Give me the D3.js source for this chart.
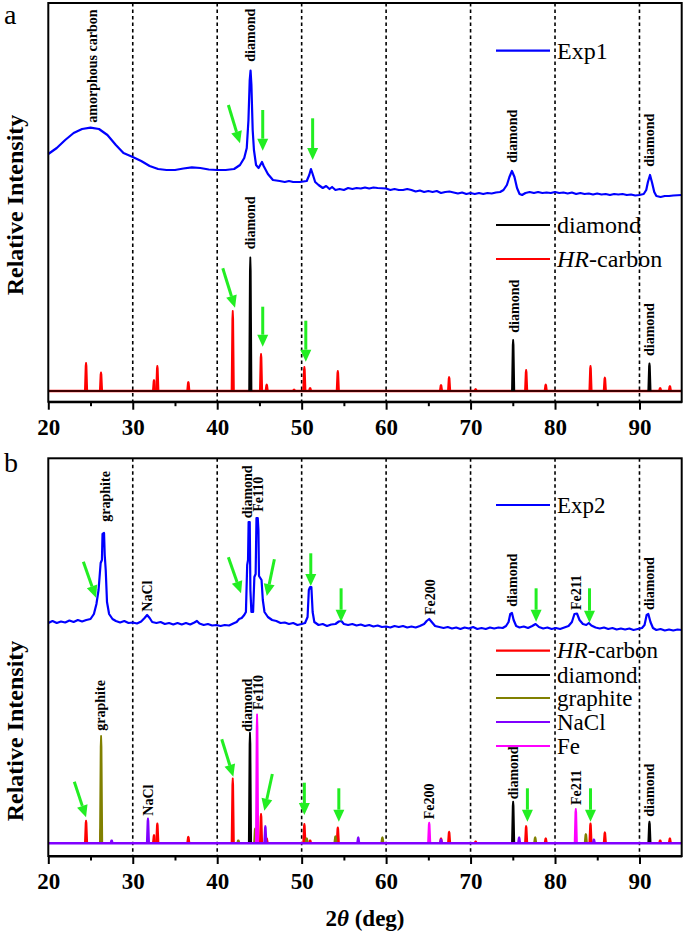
<!DOCTYPE html>
<html><head><meta charset="utf-8">
<script src="https://cdn.jsdelivr.net/npm/d3@7"></script>
<style>body{margin:0;background:#fff}svg{display:block}
svg text{font-family:"Liberation Serif","Times New Roman",Times,"DejaVu Serif",serif;}</style>
</head><body>
<svg id="c" width="685" height="941"></svg>
<script>
// ---------- DATA (2θ in degrees, intensity in arbitrary units) ----------
const xTickValues = [20, 30, 40, 50, 60, 70, 80, 90];
const xMinorTicks = [25, 35, 45, 55, 65, 75, 85];
const gridValues = [30, 40, 50, 60, 70, 80, 90];

const exp1 = [[20,237],[21,243],[22,251],[23,258],[24,262],[25,263.3],[26,262],[27,256],[28,246],[28.9,238],[30,234],[31,230],[32,225],[33,222],[34,221],[35,221],[36,222.5],[37,223.7],[38,223],[39,221.5],[40,221],[41,221],[42,222],[42.7,226],[43.2,233],[43.5,243],[43.7,271],[43.85,311],[43.95,320.3],[44.05,306],[44.2,261],[44.35,241],[44.6,226],[44.9,223],[45.1,226],[45.3,229],[45.5,225],[46,217],[46.6,211],[47.4,210],[48,209],[48.5,210],[49,209],[49.8,209],[50.6,210],[50.9,216],[51.1,222],[51.3,217],[51.6,209],[52,206],[52.5,203],[52.9,205],[53.3,202],[53.6,204],[54,201],[54.5,202],[55,201],[55.5,203],[56,202],[56.5,203],[57,202.5],[57.5,203.5],[58,202.5],[58.5,203.5],[59,203],[60,202.5],[60.5,201],[61,202],[61.5,201],[62,201],[62.5,202],[63,201],[63.5,199.5],[64,200.5],[64.5,199],[65,200],[65.5,199],[66,200],[66.5,198],[67,199],[67.5,199.5],[68,198.5],[68.5,197.5],[69,198.5],[69.5,197],[70,198],[70.5,197],[71,198],[71.5,197],[72,198],[72.5,197.5],[73,198.5],[73.5,199],[73.9,201],[74.3,206],[74.6,214],[74.9,220],[75.2,214],[75.5,203],[75.8,197],[76.1,196],[76.5,198],[77,199],[77.5,198],[78,199],[78.5,198],[79,198.5],[79.5,198],[80,199],[80.5,198],[81,198.5],[81.5,197.5],[82,198.5],[82.5,197],[83,198],[83.5,197],[84,197.5],[84.5,196.5],[85,197.5],[85.5,196.5],[86,197],[86.5,196],[87,197],[87.5,196.5],[88,197],[88.5,196],[89,196.5],[89.5,195.5],[90,196],[90.5,197],[90.8,201],[91,209],[91.25,216],[91.5,208],[91.75,199],[92,195],[92.5,194],[93,195],[93.5,195],[94,195.5],[95,196]];

const exp2 = [[20,220.3],[20.5,222.3],[21,220.3],[21.5,221.8],[22,220.8],[22.5,222.8],[23,221.3],[23.5,223.3],[24,221.8],[24.5,223.3],[25,224.3],[25.4,229.3],[25.7,239.3],[25.95,253.3],[26.2,280.3],[26.35,283.3],[26.42,309.3],[26.6,310.3],[26.68,288.3],[26.8,273.3],[26.95,241.3],[27.2,229.3],[27.6,224.3],[28,222.3],[28.5,220.8],[29,222.3],[29.5,220.3],[30,220.8],[30.5,219.8],[31,221.8],[31.4,225.3],[31.7,228.3],[32,225.3],[32.3,221.3],[32.8,220.3],[33.3,221.3],[33.8,219.3],[34.3,220.3],[34.8,218.8],[35.3,220.3],[35.8,218.8],[36.3,220.3],[36.8,218.8],[37.3,220.8],[37.6,222.3],[37.9,219.8],[38.4,218.3],[38.9,219.3],[39.4,217.8],[39.9,218.3],[40.4,217.3],[40.9,218.3],[41.4,217.8],[41.9,219.8],[42.3,221.3],[42.6,224.3],[42.9,225.3],[43.2,228.3],[43.4,231.3],[43.55,278.3],[43.65,283.3],[43.72,321.3],[43.85,321.3],[43.93,253.3],[44.05,231.3],[44.25,231.3],[44.4,266.3],[44.55,269.3],[44.65,325.3],[44.8,325.3],[44.88,313.3],[44.95,267.3],[45.25,263.3],[45.4,243.3],[45.6,231.3],[46,226.3],[46.5,223.3],[47,222.3],[47.5,220.3],[48,220.8],[48.5,219.3],[49,220.3],[49.5,218.3],[50,219.3],[50.4,220.3],[50.7,226.3],[50.85,253.3],[51,256.3],[51.15,256.3],[51.3,231.3],[51.5,221.3],[52,218.3],[52.5,219.3],[53,217.3],[53.5,218.8],[54,219.3],[54.4,221.8],[54.7,222.3],[55,219.3],[55.5,218.3],[56,219.3],[56.5,217.8],[57,218.8],[57.5,217.3],[58,218.3],[58.5,216.8],[59,217.8],[59.5,216.3],[60,216.8],[60.5,215.8],[61,217.3],[61.5,216.3],[62,217.3],[62.5,215.8],[63,216.8],[63.5,215.8],[64,217.3],[64.5,219.3],[64.8,222.3],[65.1,224.3],[65.4,221.3],[65.8,217.3],[66.3,216.3],[66.8,215.3],[67.3,216.3],[67.8,214.8],[68.3,215.8],[68.8,214.3],[69.3,215.8],[69.8,214.8],[70.3,216.3],[70.8,214.3],[71.3,215.3],[71.8,214.3],[72.3,215.8],[72.8,214.8],[73.3,215.8],[73.8,215.3],[74.2,217.3],[74.5,221.3],[74.7,229.3],[74.9,230.3],[75.1,223.3],[75.4,217.3],[75.8,215.8],[76.3,216.8],[76.8,215.3],[77.3,217.3],[77.7,219.3],[78.1,216.3],[78.6,214.8],[79.1,215.8],[79.6,214.3],[80.1,215.3],[80.6,214.3],[81.1,215.8],[81.6,217.3],[82,221.3],[82.3,229.3],[82.6,229.8],[82.9,223.3],[83.3,219.3],[83.7,218.3],[84,220.3],[84.3,217.8],[84.8,215.8],[85.3,214.8],[85.8,215.8],[86.3,214.3],[86.8,215.3],[87.3,213.8],[87.8,214.8],[88.3,213.8],[88.8,214.8],[89.3,213.3],[89.8,214.3],[90.3,215.3],[90.6,218.3],[90.85,228.3],[91.05,229.3],[91.3,221.3],[91.6,215.3],[92,213.3],[92.5,214.3],[93,212.8],[93.5,213.8],[94,212.8],[94.5,213.8],[95,213.3]];

// reference patterns: [2θ, peak height]
const hrCarbonA = [[24.47,28],[26.24,18.5],[32.52,11],[32.91,25],[36.58,9],[41.84,80],[45.19,37],[45.86,6.5],[49.1,1.5],[50.32,24],[51.0,3],[54.28,20],[66.5,6],[67.46,14],[70.6,2],[76.58,21],[78.9,6.5],[84.2,25],[85.9,13.5],[92.45,3],[93.6,5]];
const diamondA = [[43.92,133.5],[75.04,51],[91.18,27.5]];

const hrCarbonB = [[24.47,22.6],[26.24,15],[32.52,8.3],[32.91,20],[36.58,6.6],[41.84,65],[45.19,29.3],[45.86,5],[50.32,19.3],[51.0,3],[54.28,16],[66.5,5],[67.46,11.6],[70.6,2],[76.58,17.3],[78.9,5],[84.2,20],[85.9,11],[92.45,3],[93.6,5]];
const diamondB = [[43.88,110.6],[75.04,41.6],[91.18,21.6]];
const graphiteB = [[26.25,107.3],[42.5,3],[44.5,15],[50.6,5],[54.0,7],[59.56,6],[77.65,6],[83.65,9.3]];
const naclB = [[27.5,3],[31.8,25],[45.7,17.3],[56.7,6],[66.5,4],[75.75,6],[84.6,4]];
const feB = [[44.72,129],[65.1,20.6],[82.46,34.3]];

// peak annotations: [text, 2θ, intensity at text start]
const labelsA = [["amorphous carbon",25.14,268.3],["diamond",43.89,329.3],["diamond",74.89,228.3],["diamond",91.11,224.3],["diamond",43.89,141.7],["diamond",75.08,58.3],["diamond",91.11,35]];
const labelsB = [["graphite",26.72,321.6],["NaCl",31.73,231.6],["diamond",43.5,325],["Fe110",44.87,331.6],["Fe200",65.21,228.3],["diamond",74.89,236.6],["Fe211",82.5,233.3],["diamond",91.07,233.3],["graphite",26.12,112.6],["NaCl",31.84,27.6],["diamond",43.5,111.6],["Fe110",44.87,133.3],["Fe200",65.09,24],["diamond",75.0,44],["Fe211",82.5,38.3],["diamond",91.18,26.6]];

// green arrows: [tail 2θ, tail I, tip 2θ, tip I]
const arrowsA = [[41.32,286,42.7,247.7],[45.39,281,45.39,240.3],[51.3,272.7,51.3,231],[40.66,122.7,42.11,83.3],[45.39,84.3,45.39,44.3],[50.49,70.3,50.49,29.3]];
const arrowsB = [[24.15,281.6,25.65,245.6],[41.32,286,42.82,250],[46.77,284,45.87,247.3],[51.08,290,51.08,257.3],[54.67,255,54.67,221.6],[77.76,255,77.76,221.6],[84.08,255,84.08,220.6],[23.08,61.6,24.47,26],[40.54,104,41.91,66.6],[46.53,69.3,45.58,32.6],[50.32,60.6,50.32,28.3],[54.4,55,54.4,21.6],[76.73,55,76.73,21.6],[84.2,55,84.2,21.6]];

const legendNamesA = ["Exp1", "diamond", "HR-carbon"];
const legendNamesB = ["Exp2", "HR-carbon", "diamond", "graphite", "NaCl", "Fe"];

// ---------- DRAWING ----------
const COL = {exp:"#0000ff", hr:"#ff0000", diamond:"#000000", graphite:"#808000", nacl:"#8000ff", fe:"#ff00ff", arrow:"#22ee22"};
const svg = d3.select("#c");
const x = d3.scaleLinear([20, 95], [48.3, 681.7]);

function peakPts(p, h){ return [[p-0.14,0],[p-0.05,0.9*h],[p,h],[p+0.05,0.9*h],[p+0.14,0]]; }

function panel(opts){
  const y = d3.scaleLinear(opts.yDomain, opts.yRange);
  const g = svg.append("g");
  const top = opts.yRange[1], bot = opts.yRange[0];
  g.selectAll(".grid").data(gridValues).join("line")
    .attr("x1", d=>x(d)).attr("x2", d=>x(d)).attr("y1", top).attr("y2", bot)
    .attr("stroke","#000").attr("stroke-width",1.6).attr("stroke-dasharray","3.5,3");
  const line = d3.line().x(d=>x(d[0])).y(d=>y(d[1]));
  opts.refs.forEach(r=>{
    const rg = g.append("g");
    rg.append("path").attr("d", line([[20,0],[95,0]])).attr("fill","none")
      .attr("stroke", r.color).attr("stroke-width", r.base);
    rg.selectAll("path.pk").data(r.data).join("path").attr("class","pk")
      .attr("d", d=>line(peakPts(d[0], d[1]))).attr("fill", r.color)
      .attr("stroke", r.color).attr("stroke-width", 1.8).attr("stroke-linejoin","round");
  });
  g.append("path").attr("d", line(opts.exp)).attr("fill","none")
    .attr("stroke", COL.exp).attr("stroke-width", 2.2).attr("stroke-linejoin","round");
  g.selectAll("text.lab").data(opts.labels).join("text").attr("class","lab")
    .attr("transform", d=>`translate(${x(d[1])},${y(d[2])}) rotate(-90)`)
    .attr("dy","0.36em").attr("font-weight","bold")
    .attr("font-size", 14).text(d=>d[0]);
  opts.arrows.forEach(a=>{
    const x1=x(a[0]), y1=y(a[1]), x2=x(a[2]), y2=y(a[3]);
    const ang = Math.atan2(y2-y1, x2-x1), L=12, W=5.5;
    const bx = x2 - L*Math.cos(ang), by = y2 - L*Math.sin(ang);
    g.append("line").attr("x1",x1).attr("y1",y1).attr("x2",bx).attr("y2",by)
      .attr("stroke",COL.arrow).attr("stroke-width",3);
    const px = -Math.sin(ang)*W, py = Math.cos(ang)*W;
    g.append("path").attr("d",`M${x2},${y2}L${bx+px},${by+py}L${bx-px},${by-py}Z`).attr("fill",COL.arrow);
  });
  g.append("rect").attr("x", 48.3).attr("y", top).attr("width", 681.7-48.3).attr("height", bot-top)
    .attr("fill","none").attr("stroke","#000").attr("stroke-width",2);
  const ax = g.append("g").attr("transform",`translate(0,${bot})`)
    .call(d3.axisBottom(x).tickValues(xTickValues).tickSize(8).tickSizeOuter(0).tickPadding(9).tickFormat(d3.format("d")));
  ax.attr("font-family", null);
  ax.select(".domain").attr("stroke-width",2);
  ax.selectAll(".tick line").attr("stroke-width",2);
  ax.selectAll("text").attr("font-weight","bold").attr("font-size",23).attr("fill","#000");
  const mi = g.append("g").attr("transform",`translate(0,${bot})`)
    .call(d3.axisBottom(x).tickValues(xMinorTicks).tickSize(4.5).tickSizeOuter(0).tickFormat(""));
  mi.select(".domain").remove();
  mi.selectAll(".tick line").attr("stroke-width",2);
  svg.append("text").attr("transform",`translate(23,${opts.ylabelY}) rotate(-90)`)
    .attr("text-anchor","middle").attr("font-weight","bold")
    .attr("font-size",24).text("Relative Intensity");
  svg.append("text").attr("x",4).attr("y",opts.letterY)
    .attr("font-size",28).text(opts.letter);
  const lg = g.append("g");
  opts.legend.forEach((it,i)=>{
    const ly = top + it.dy;
    lg.append("line").attr("x1",496).attr("x2",550).attr("y1",ly).attr("y2",ly)
      .attr("stroke",it.color).attr("stroke-width",2.2);
    const t = lg.append("text").attr("x",557).attr("y",ly).attr("dy","0.33em")
      .attr("font-size",opts.legendSize);
    if (it.name.startsWith("HR")) {
      t.append("tspan").attr("font-style","italic").text("HR");
      t.append("tspan").text(it.name.slice(2));
    } else t.text(it.name);
  });
}

panel({yDomain:[-10.7,388], yRange:[401.7,3], exp:exp1,
  refs:[{data:hrCarbonA,color:COL.hr,base:2.6},{data:diamondA,color:COL.diamond,base:1.3}],
  labels:labelsA, arrows:arrowsA, ylabelY:205, letter:"a", letterY:24, legendSize:24,
  legend:[{name:legendNamesA[0],color:COL.exp,dy:47.7},{name:legendNamesA[1],color:COL.diamond,dy:222},{name:legendNamesA[2],color:COL.hr,dy:256}]});

panel({yDomain:[-12.7,385], yRange:[856,458.3], exp:exp2,
  refs:[{data:hrCarbonB,color:COL.hr,base:1.5},{data:diamondB,color:COL.diamond,base:1.5},{data:graphiteB,color:COL.graphite,base:1.5},{data:feB,color:COL.fe,base:1.5},{data:naclB,color:COL.nacl,base:2.6}],
  labels:labelsB, arrows:arrowsB, ylabelY:731, letter:"b", letterY:472, legendSize:23,
  legend:[{name:legendNamesB[0],color:COL.exp,dy:46.7},{name:legendNamesB[1],color:COL.hr,dy:192.4},{name:legendNamesB[2],color:COL.diamond,dy:216.7},{name:legendNamesB[3],color:COL.graphite,dy:239.7},{name:legendNamesB[4],color:COL.nacl,dy:263.7},{name:legendNamesB[5],color:COL.fe,dy:287.7}]});

const xt = svg.append("text").attr("x",365).attr("y",926).attr("text-anchor","middle")
  .attr("font-weight","bold").attr("font-size",23);
xt.append("tspan").text("2");
xt.append("tspan").attr("font-style","italic").text("θ");
xt.append("tspan").text(" (deg)");
</script>
</body></html>
